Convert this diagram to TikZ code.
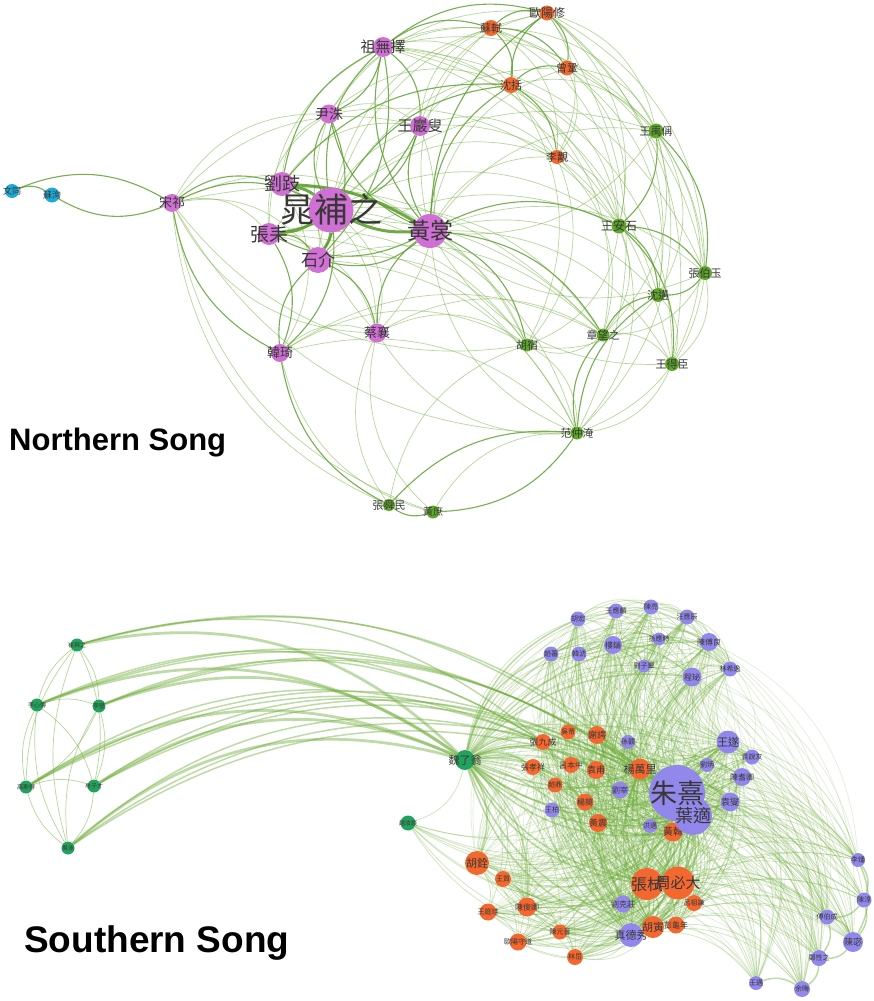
\documentclass[tikz,border=0pt]{standalone}
\usepackage{fontspec}
\newfontfamily\cjk{Noto Sans CJK TC}
\newfontfamily\headfont{Liberation Sans}
\usetikzlibrary{backgrounds}
\definecolor{pk}{RGB}{208,112,212}
\definecolor{org}{RGB}{244,104,48}
\definecolor{tg}{RGB}{96,168,42}
\definecolor{bl}{RGB}{28,170,214}
\definecolor{pu}{RGB}{146,136,236}
\definecolor{sgreen}{RGB}{34,162,92}
\definecolor{ed}{RGB}{88,156,40}
\definecolor{el}{RGB}{112,174,58}
\definecolor{lb}{RGB}{55,55,55}
\tikzset{
  nd/.style={circle,inner sep=0pt,draw=none},
  lab/.style={text=lb,inner sep=0pt},
  ethick/.style={draw=ed,line width=3pt,opacity=0.85},
  emid/.style={draw=ed,line width=1.1pt,opacity=0.8},
  elight/.style={draw=el,line width=0.7pt,opacity=0.5},
  sone/.style={draw=el,line width=0.8pt,opacity=0.3},
  szero/.style={draw=el,line width=0.6pt,opacity=0.22},
  stwo/.style={draw=el,line width=1.5pt,opacity=0.45},
  sthree/.style={draw=el,line width=2.8pt,opacity=0.45},
}
\newcommand{\mynode}[6]{\node[nd,fill=#1,minimum size=#2,label={[lab,font=\cjk\fontsize{#3}{#3}\selectfont]center:#6}] (#4) at (#5) {};}
\begin{document}
\begin{tikzpicture}[x=1pt,y=-1pt]
\useasboundingbox (0,0) rectangle (874,1001);
% ---------------- Northern Song nodes
\mynode{bl}{14}{9}{bl1}{12,191}{文同}
\mynode{bl}{15}{9}{bl2}{52,195}{蘇洵}
\mynode{pk}{18}{13}{sq}{172,203}{宋祁}
\mynode{pk}{24}{18}{lq}{282,184}{劉跂}
\mynode{pk}{22}{19}{zl}{269,234}{張耒}
\mynode{pk}{26}{17}{sj}{318,260}{石介}
\mynode{pk}{45}{34}{cb}{331,210}{晁補之}
\mynode{pk}{34}{23}{hs}{430,231}{黃裳}
\mynode{pk}{20}{15}{zw}{383,47}{祖無擇}
\mynode{pk}{19}{14}{yz}{329,114}{尹洙}
\mynode{pk}{20}{15}{wy}{420,126}{王巖叟}
\mynode{pk}{19}{13}{cx}{377,333}{蔡襄}
\mynode{pk}{18}{13}{hq}{280,353}{韓琦}
\mynode{org}{16}{11}{no1}{491,28}{蘇軾}
\mynode{org}{15}{12}{oy}{547,13}{歐陽修}
\mynode{org}{15}{11}{no3}{567,68}{曾鞏}
\mynode{org}{16}{11}{no4}{511,85}{沈括}
\mynode{org}{14}{11}{no5}{557,157}{李覯}
\mynode{tg}{15}{11}{wc}{656,131}{王禹偁}
\mynode{tg}{15}{12}{wa}{619,226}{王安石}
\mynode{tg}{14}{11}{zb}{705,273}{張伯玉}
\mynode{tg}{14}{11}{g2}{658,295}{沈遘}
\mynode{tg}{13}{11}{zz}{603,335}{章望之}
\mynode{tg}{13}{11}{g4}{527,345}{胡宿}
\mynode{tg}{14}{11}{g5}{672,364}{王得臣}
\mynode{tg}{13}{11}{fz}{577,433}{范仲淹}
\mynode{tg}{12}{11}{zm}{389,505}{張舜民}
\mynode{tg}{13}{10}{g8}{433,512}{黃庶}
\node[anchor=west,inner sep=0pt,font=\headfont\bfseries\fontsize{31}{31}\selectfont] (tn) at (9,443) {Northern Song};
% ---------------- Southern Song nodes
\mynode{sgreen}{13}{6}{sg1}{77,645}{崔與之}
\mynode{sgreen}{13}{6}{sg2}{37,705}{李心傳}
\mynode{sgreen}{13}{6}{sg3}{99,706}{李壁}
\mynode{sgreen}{13}{6}{sg4}{26,787}{高斯得}
\mynode{sgreen}{13}{6}{sg5}{94,786}{牟子才}
\mynode{sgreen}{13}{6}{sg6}{68,848}{吳泳}
\mynode{sgreen}{15}{6}{sg8}{408,823}{趙汝談}
\mynode{sgreen}{20}{11}{wl}{465,760}{魏了翁}
\mynode{pu}{15}{7}{p1}{578,619}{胡宏}
\mynode{pu}{15}{7}{p2}{616,611}{王應麟}
\mynode{pu}{15}{7}{p3}{651,607}{陳亮}
\mynode{pu}{15}{7}{p4}{687,617}{汪應辰}
\mynode{pu}{15}{7}{p5}{551,654}{趙蕃}
\mynode{pu}{15}{7}{p6}{579,654}{韓淲}
\mynode{pu}{18}{8}{p7}{613,645}{樓鑰}
\mynode{pu}{13}{7}{p8}{659,639}{孫應時}
\mynode{pu}{18}{8}{p9}{709,642}{陳傅良}
\mynode{pu}{13}{7}{p10}{644,666}{劉子翬}
\mynode{pu}{19}{8}{p11}{692,677}{程珌}
\mynode{pu}{15}{7}{p12}{730,669}{林希逸}
\mynode{pu}{23}{11}{ws}{728,742}{王遂}
\mynode{pu}{15}{7}{p14}{752,757}{袁說友}
\mynode{pu}{14}{7}{p15}{707,765}{劉炳}
\mynode{pu}{18}{8}{p16}{742,777}{陳耆卿}
\mynode{pu}{19}{9}{p17}{730,802}{袁燮}
\mynode{pu}{14}{7}{p20}{628,742}{孫觀}
\mynode{pu}{17}{8}{p21}{620,790}{劉宰}
\mynode{pu}{15}{7}{p22}{552,810}{王柏}
\mynode{pu}{14}{7}{p23}{650,826}{洪邁}
\mynode{pu}{17}{8}{p24}{623,904}{劉克莊}
\mynode{pu}{24}{11}{zd}{631,935}{真德秀}
\mynode{pu}{14}{7}{p26}{756,983}{王邁}
\mynode{pu}{14}{7}{p27}{858,860}{李燔}
\mynode{pu}{15}{7}{p28}{864,900}{陳淳}
\mynode{pu}{15}{7}{p29}{827,917}{傅伯成}
\mynode{pu}{20}{9}{p30}{853,942}{陳宓}
\mynode{pu}{16}{7}{p31}{819,958}{鄭性之}
\mynode{pu}{16}{7}{p32}{802,989}{余晦}
\mynode{org}{16}{9}{o1}{543,742}{張九成}
\mynode{org}{15}{7}{o2}{568,732}{吳芾}
\mynode{org}{18}{9}{o3}{597,735}{謝諤}
\mynode{org}{16}{8}{o4}{533,767}{張孝祥}
\mynode{org}{16}{8}{o5}{571,765}{呂本中}
\mynode{org}{18}{9}{o6}{596,770}{袁甫}
\mynode{org}{21}{11}{ywl}{640,769}{楊萬里}
\mynode{org}{15}{7}{o8}{555,785}{趙鼎}
\mynode{org}{17}{8}{o9}{585,802}{楊簡}
\mynode{org}{18}{9}{o10}{598,823}{黃震}
\mynode{org}{19}{10}{hg}{673,832}{黃榦}
\mynode{org}{24}{11}{hqs}{477,863}{胡銓}
\mynode{org}{16}{7}{o13}{503,879}{王質}
\mynode{org}{17}{7}{o14}{488,912}{王庭珪}
\mynode{org}{19}{8}{o15}{527,907}{陳俊卿}
\mynode{org}{17}{7}{o16}{518,942}{歐陽守道}
\mynode{org}{15}{7}{o17}{560,932}{陳元晉}
\mynode{org}{16}{7}{o18}{575,957}{林岊}
\mynode{org}{17}{8}{o22}{676,925}{彭龜年}
\mynode{org}{16}{7}{o23}{694,903}{呂祖謙}
\mynode{org}{22}{11}{hy}{653,927}{胡寅}
\mynode{org}{32}{16}{zs}{647,884}{張栻}
\mynode{org}{33}{15}{zbd}{678,883}{周必大}
\node[nd,fill=pu,minimum size=38] (yo) at (693,816) {};
\mynode{pu}{56}{27}{zx}{677,793}{朱熹}
\node[lab,font=\cjk\fontsize{18}{18}\selectfont] (yol) at (yo) {葉適};
\node[anchor=west,inner sep=0pt,font=\headfont\bfseries\fontsize{37}{37}\selectfont] (ts) at (24,943) {Southern Song};
% ---------------- edges
\begin{scope}[on background layer]
\fill[white] (0,0) rectangle (874,1001);
% north
\foreach \a/\b in {bl1/bl2,bl1/sq,sq/bl2,sq/lq,sq/cb,zl/sj,cb/hq,cb/zw,cb/yz,wy/cb,hs/zw,zw/sj,hs/yz,yz/sj,hs/wy,wy/zl,cx/hs,hs/sj,hs/zl,sj/cx,zl/hq,hq/sj,zw/yz,zw/wy,zw/no1,zw/oy,no4/oy,no4/no3,no1/no4,no1/oy,oy/no3,no1/no3,no4/no5,wa/zb,wa/g2,wa/g5,zz/g2,zb/g2,wc/wa,wc/zb,fz/zz,fz/g2,g8/zm,fz/g8,zm/fz,zm/hq,hs/wa,hs/g4,hs/zz,cb/no4,lq/zw,hs/no4,hs/oy,hq/sq,lq/no4}
  \draw[emid] (\a) to[bend left=26] (\b);
\foreach \a/\b in {sq/zl,sq/sj,sq/hs,cx/sq,g4/sq,fz/sq,zm/sq,sq/wy,sq/yz,lq/yz,lq/wy,lq/sj,lq/zl,lq/cx,lq/hq,zl/cx,zl/yz,zl/zw,zl/g4,sj/wy,hs/wc,hs/g2,hs/zb,hs/g5,fz/hs,hs/no3,hs/no5,hs/no1,cb/oy,cb/no3,cb/no1,cb/no5,cb/wc,cb/wa,cb/cx,cb/g4,cb/zz,cb/fz,zw/no4,zw/no3,zw/no5,zw/wc,zw/wa,zw/g2,yz/no4,yz/oy,yz/wy,cx/yz,yz/no1,wy/no4,wy/no1,wy/oy,wy/wa,wy/cx,wy/no5,hq/cx,cx/g4,cx/zz,fz/cx,zm/cx,g8/hq,hq/g4,hq/fz,oy/wc,oy/wa,oy/no5,oy/zb,oy/g5,no3/wc,no3/wa,no3/no5,no3/g2,no3/zb,no1/wc,no1/no5,no1/wa,no4/wc,no4/wa,no4/g4,no4/zz,no4/g5,no5/wa,no5/g4,no5/zz,wc/g2,wc/g5,wc/zz,wc/fz,wa/zz,wa/g4,wa/fz,zb/zz,zb/g5,zb/fz,g2/g5,g2/g4,zz/g5,zz/g4,g4/fz,g5/fz,g8/fz,zm/g4,g8/cx,zw/zb,oy/fz,g8/sq,wc/hs,zb/hs,g5/hs,sj/g4,sj/zz,sj/fz,zl/zz,hq/zz,sj/wa,zl/fz,lq/g4,yz/wa,zw/g5,oy/g2,no1/zb,sq/zz}
  \draw[elight] (\a) to[bend left=30] (\b);
\foreach \a/\b in {hs/cb,cb/zl,cb/sj,lq/cb,lq/hs}
  \draw[ethick] (\a) to[bend left=14] (\b);
% south
\foreach \h in {zx,yo,zs,zbd,hy,ywl,hg,zd,ws,p17,wl} {
  \foreach \t in {p1,p2,p3,p4,p5,p6,p7,p8,p9,p10,p11,p12,p14,p15,p16,p20,p21,p22,p23,p24,p26,p27,p28,p29,p30,p31,p32,o1,o2,o3,o4,o5,o6,o8,o9,o10,hqs,o13,o14,o15,o16,o17,o18,o22,o23,sg8} {
    \draw[sone] (\h) to[bend left=30] (\t);
  }
}
\foreach \h in {o3,o6,o9,p7,p9,p11,p21,hqs,o15,p24,p16,o1} {
  \foreach \t in {p1,p3,p5,p8,p10,p12,p14,p15,p20,p22,p23,p26,p27,p29,p30,p31,p32,o2,o4,o5,o8,o10,o13,o14,o16,o17,o18,o22,o23} {
    \draw[szero] (\h) to[bend left=30] (\t);
  }
}
\foreach \i in {1,...,11} {
  \pgfmathtruncatemacro\k{\i+1}
  \foreach \j in {\k,...,12} {\draw[sone] (p\i) to[bend left=30] (p\j);}
}
\foreach \a/\b in {zx/yo,zx/zs,zx/zbd,zx/hy,zx/ywl,zx/hg,zx/zd,zx/ws,zx/p17,zx/wl,yo/zs,yo/zbd,yo/hy,yo/ywl,yo/hg,yo/zd,yo/ws,yo/p17,yo/wl,zs/zbd,zs/hy,zs/ywl,zs/hg,zs/zd,zs/wl,zbd/hy,zbd/ywl,zbd/hg,zbd/zd,zbd/wl,hy/ywl,hy/zd,hy/wl,ywl/hg,ywl/wl,hg/zd,hg/wl,zd/wl,ws/wl,p17/wl,ws/p17,zd/ws,p27/p28,p28/p29,p28/p30,p29/p30,p30/p31,p31/p32,p26/p32,p27/p30,p29/p31,wl/o1,wl/o4,wl/o5,wl/o9,wl/o6,wl/p5,wl/p1,wl/hqs,wl/o15,wl/p24,wl/p9,wl/p11}
  \draw[stwo] (\a) to[bend left=26] (\b);
\foreach \a/\b in {hqs/o13,hqs/o14,hqs/o15,o14/o16,o15/o16,o16/o17,o17/o18,o15/o18,hqs/o16,o13/o15,o14/o18,o13/o17}
  \draw[sone] (\a) to[bend left=22] (\b);
\foreach \a/\b in {sg2/sg1,sg1/sg3,sg4/sg1,sg1/sg5,sg6/sg1,sg4/sg2,sg2/sg3,sg2/sg5,sg6/sg2,sg3/sg4,sg3/sg5,sg6/sg3,sg4/sg5,sg6/sg4,sg5/sg6}
  \draw[elight] (\a) to[bend left=18] (\b);
\foreach \s in {sg1,sg2,sg3,sg4,sg5,sg6} {
  \draw[sthree] (\s) to[bend left=28] (wl);
  \foreach \t in {zx,o1,ywl} {\draw[stwo] (\s) to[bend left=28] (\t);}
}
\end{scope}
\end{tikzpicture}
\end{document}
